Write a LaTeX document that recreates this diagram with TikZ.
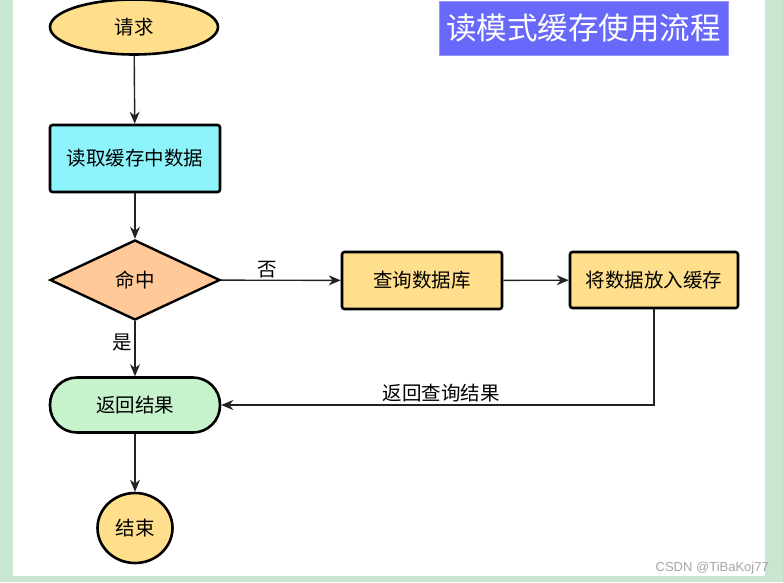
\documentclass[tikz,border=0pt]{standalone}
\usepackage{fontspec}
\setmainfont{Noto Sans CJK SC}
\newfontfamily\cjk{Noto Sans CJK SC}
\usetikzlibrary{shapes.geometric,arrows.meta}
\definecolor{bggreen}{HTML}{C8E6D0}
\definecolor{titleblue}{HTML}{6868FA}
\definecolor{cyanfill}{HTML}{8EF4FC}
\definecolor{yellowfill}{HTML}{FFDF8C}
\definecolor{peachfill}{HTML}{FFC99A}
\definecolor{greenfill}{HTML}{C6F2CC}
\definecolor{linegray}{HTML}{222222}
\tikzset{
  lblfont/.style={font=\cjk\fontsize{19.5}{22}\selectfont},
  box/.style={draw=black, line width=2.6pt, rounded corners=2.5pt, inner sep=0pt, lblfont},
  stadium/.style={draw=black, line width=2.6pt, rounded corners=27pt, inner sep=0pt, lblfont},
  oval/.style={draw=black, line width=2.6pt, ellipse, inner sep=0pt, lblfont},
  decision/.style={draw=black, line width=2.4pt, diamond, inner sep=0pt, lblfont},
  conn/.style={draw=linegray, line width=1.4pt, -{Stealth[length=12pt,width=10pt]}},
  lbl/.style={lblfont, inner sep=0pt}
}
\begin{document}
\begin{tikzpicture}[x=1pt,y=-1pt]
\useasboundingbox (0,0) rectangle (783,582);
\fill[bggreen] (0,0) rectangle (783,582);
\fill[white] (13,0) rectangle (765,576);
% title
\node[fill=titleblue, draw=titleblue!70, minimum width=289pt, minimum height=54pt, inner sep=0pt, text=white, font=\cjk\fontsize{30.5}{33}\selectfont] (title) at (583.5,28) {读模式缓存使用流程};
% nodes
\node[oval, fill=yellowfill, minimum width=168pt, minimum height=55pt] (start) at (134,27) {请求};
\node[box, fill=cyanfill, minimum width=170pt, minimum height=67pt] (read) at (135,158.5) {读取缓存中数据};
\node[decision, fill=peachfill, minimum width=170pt, minimum height=80pt, aspect=2.1] (hit) at (135,280) {命中};
\node[box, fill=yellowfill, minimum width=160pt, minimum height=57pt] (query) at (422,280.5) {查询数据库};
\node[box, fill=yellowfill, minimum width=168pt, minimum height=56pt] (put) at (654,280) {将数据放入缓存};
\node[stadium, fill=greenfill, minimum width=170pt, minimum height=55pt] (ret) at (135,405) {返回结果};
\node[oval, fill=yellowfill, minimum width=75pt, minimum height=70pt] (end) at (135,528) {结束};
% connectors
\draw[conn] (start) -- (read);
\draw[conn] (read) -- (hit);
\draw[conn] (hit) -- (query);
\draw[conn] (query) -- (put);
\draw[conn] (hit) -- (ret);
\draw[conn] (put.south) |- (ret.east);
\draw[conn] (ret) -- (end);
% labels
\node[lbl] (no) at (267,270) {否};
\node[lbl] (yes) at (122,342) {是};
\node[lbl] (retq) at (441,393) {返回查询结果};
% watermark
\node[font=\fontspec{Liberation Sans}\fontsize{13}{14}\selectfont, text=gray!70, inner sep=0pt, anchor=east] (wm) at (769,568) {CSDN @TiBaKoj77};
\end{tikzpicture}
\end{document}
